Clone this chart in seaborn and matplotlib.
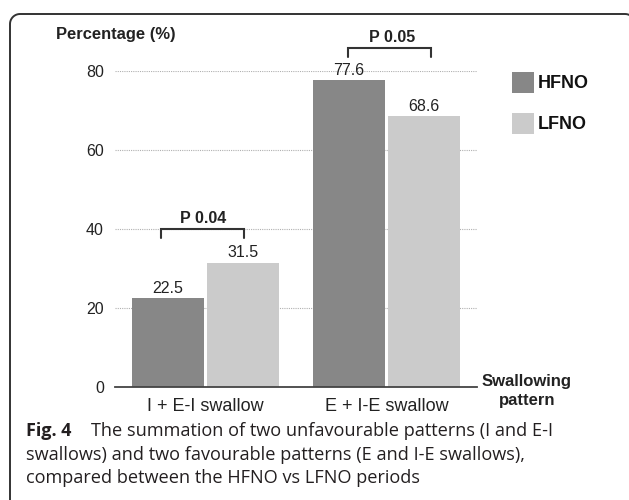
import matplotlib
matplotlib.use("Agg")
import matplotlib.pyplot as plt
from matplotlib.lines import Line2D
from matplotlib.transforms import IdentityTransform
import numpy as np
import pandas as pd
import seaborn as sns

# datos
patterns = ["I + E-I swallow", "E + I-E swallow"]
periods = ["HFNO", "LFNO"]
hfno = [22.5, 77.6]
lfno = [31.5, 68.6]
p_labels = ["P 0.04", "P 0.05"]
yticks = [0, 20, 40, 60, 80]

colors = ["#878787", "#cbcbcb"]
txt = "#222222"

df = pd.DataFrame({
    "pattern": patterns * 2,
    "period": [periods[0]] * 2 + [periods[1]] * 2,
    "pct": hfno + lfno,
})

sns.set_style("white")
plt.rcParams["font.family"] = ["Liberation Sans", "DejaVu Sans"]

fig = plt.figure(figsize=(6.29, 5), dpi=100)
ax = fig.add_axes([115 / 629, 113 / 500, 362 / 629, 316 / 500])

sns.barplot(data=df, x="pattern", y="pct", hue="period", palette=colors,
            width=0.83, gap=0.04, ax=ax, saturation=1, linewidth=0)

for cont in ax.containers:
    ax.bar_label(cont, fmt="%.1f", padding=1.5, fontsize=11.5, color=txt)

ax.set_ylim(0, 80)
ax.set_xlim(-0.5, 1.5)
ax.set_yticks(yticks)
ax.yaxis.grid(True, linestyle=(0, (1, 1)), color="#b0b0b0", linewidth=0.8)
ax.set_axisbelow(True)
for s in ["top", "right", "left"]:
    ax.spines[s].set_visible(False)
ax.spines["bottom"].set_color("#444444")
ax.spines["bottom"].set_linewidth(1.3)
ax.spines["bottom"].set_zorder(5)
ax.tick_params(axis="y", length=0, pad=8, labelsize=11.5, labelcolor=txt)
ax.tick_params(axis="x", length=0, pad=8, labelsize=13, labelcolor=txt)
ax.set_xlabel("")
ax.set_ylabel("")

# corchetes de significancia
brackets = [(-0.246, 0.21, 40.0, 37.6), (0.787, 1.246, 85.8, 83.5)]
for (x0, x1, yb, yt), lab, xt in zip(brackets, p_labels, [-0.014, 1.03]):
    ax.plot([x0, x0, x1, x1], [yt, yb, yb, yt], color="#333333", lw=1.5,
            clip_on=False, solid_joinstyle="miter")
    ax.text(xt, yb + 2.6, lab, ha="center", va="center", fontsize=11.5,
            fontweight="bold", color=txt, clip_on=False)

leg = ax.legend(loc="upper left", bbox_to_anchor=(512 / 629, 428 / 500),
                bbox_transform=fig.transFigure, frameon=False,
                handlelength=1.2, handleheight=1.4, handletextpad=0.2,
                labelspacing=1.1, borderpad=0, borderaxespad=0,
                prop={"weight": "bold", "size": 13})
for t in leg.get_texts():
    t.set_color("#111111")

fig.text(56 / 629, 465 / 500, "Percentage (%)", ha="left", va="center",
         fontsize=11.9, fontweight="bold", color=txt)
fig.text(527 / 629, 109 / 500, "Swallowing\npattern", ha="center", va="center",
         fontsize=12, fontweight="bold", color=txt, linespacing=1.3)

# pie de figura
cap_font = ["Open Sans", "DejaVu Sans"]
cap_col = "#231f20"
fig.text(26 / 629, 69 / 500, "Fig. 4", ha="left", va="center", fontsize=13,
         fontweight="bold", family=cap_font, color=cap_col)
fig.text(91 / 629, 69 / 500,
         "The summation of two unfavourable patterns (I and E-I",
         ha="left", va="center", fontsize=13.1, family=cap_font, color=cap_col)
fig.text(26 / 629, 45 / 500,
         "swallows) and two favourable patterns (E and I-E swallows),",
         ha="left", va="center", fontsize=13.1, family=cap_font, color=cap_col)
fig.text(26 / 629, 22 / 500,
         "compared between the HFNO vs LFNO periods",
         ha="left", va="center", fontsize=13.1, family=cap_font, color=cap_col)

# marco redondeado (solo lado izquierdo y borde superior)
r = 10
t1 = np.linspace(np.pi, np.pi / 2, 12)
t2 = np.linspace(np.pi / 2, np.pi / 3, 5)
bx = np.concatenate([[10], 10 + r + r * np.cos(t1), 625 + r * np.cos(t2)])
by = np.concatenate([[-5], 476 + r * np.sin(t1), 476 + r * np.sin(t2)])
fig.add_artist(Line2D(bx, by, transform=IdentityTransform(),
                      color="#333333", lw=1.4))

fig.savefig("out.png", dpi=100)
